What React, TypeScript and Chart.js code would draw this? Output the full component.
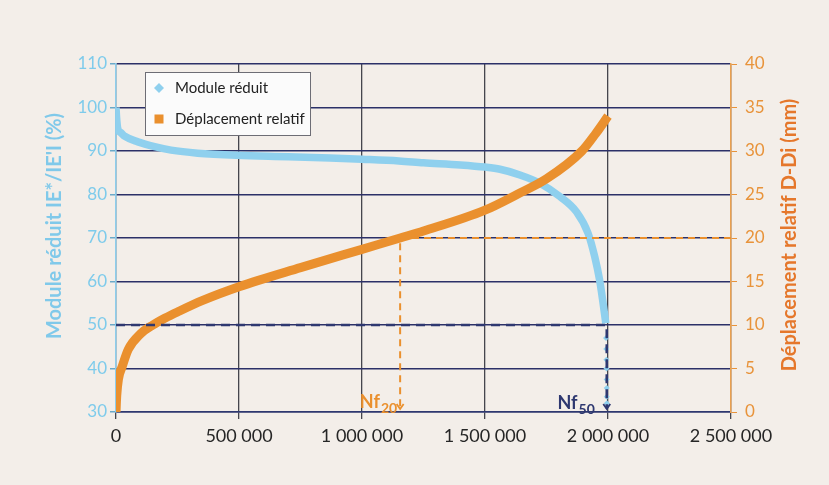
import { useEffect, useRef } from 'react';
import { Chart, registerables } from 'chart.js';

Chart.register(...registerables);

// Reduced modulus |E*|/|E*i| (%) against number of cycles
const moduleCycles = [
  0, 2000, 7000, 20000, 35000, 89000, 157000, 224000, 332000, 494000, 700000, 870000,
  1000000, 1150000, 1250000, 1400000, 1500000, 1561000, 1642000, 1723000, 1805000,
  1872000, 1919000, 1946000, 1966000, 1980000, 1991000,
];
const moduleValues = [
  100, 98.0, 95.2, 94.2, 93.4, 92.1, 91.0, 90.2, 89.5, 89.0, 88.7, 88.4,
  88.1, 87.7, 87.3, 86.8, 86.3, 85.8, 84.5, 82.6, 79.5,
  76.0, 71.1, 65.7, 60.3, 55.0, 50.4,
];
// Scattered last measurements once the modulus collapses
const moduleTailCycles = [1992000, 1993000, 1993500, 1994000, 1994500, 1995000, 1995000, 1995500];
const moduleTailValues = [47.0, 44.5, 42.0, 40.0, 37.5, 35.5, 33.5, 32.0];

// Relative displacement D-Di (mm) against number of cycles
const dispCycles = [
  0, 3000, 10000, 25000, 50000, 100000, 150000, 200000, 250000, 350000, 500000, 750000,
  1000000, 1155000, 1250000, 1500000, 1630000, 1750000, 1894000, 1950000, 2000000,
];
const dispValues = [
  0, 1.9, 3.8, 5.2, 7.2, 9.0, 10.0, 10.8, 11.5, 12.8, 14.4, 16.6,
  18.7, 20.0, 20.8, 23.2, 25.0, 26.8, 30.0, 32.0, 34.0,
];

// Failure criteria
const NF20 = 1155000; // cycles at 20 mm displacement
const NF20_DISP = 20;
const NF50 = 1995000; // cycles at 50 % modulus
const NF50_MODULE = 50;

const cycleRange = [0, 2500000];
const cycleStep = 500000;
const moduleRange = [30, 110];
const moduleStep = 10;
const dispRange = [0, 40];
const dispStep = 5;

const BLUE = '#8fd0ee';
const ORANGE = '#ea902e';
const NAVY = '#2e3870';
const FONT = 'Lato';

const formatCycles = (v: number) => String(v).replace(/\B(?=(\d{3})+(?!\d))/g, ' ');

const pairs = (xs: number[], ys: number[]) => xs.map((x, i) => ({ x, y: ys[i] }));

const backgroundPlugin = {
  id: 'paper',
  beforeDraw(chart: any) {
    const { ctx, width, height } = chart;
    ctx.save();
    ctx.fillStyle = '#f3eee9';
    ctx.fillRect(0, 0, width, height);
    ctx.restore();
  },
};

const decorationsPlugin = {
  id: 'decorations',
  afterDatasetsDraw(chart: any) {
    const { ctx, chartArea, scales } = chart;
    const x = scales.x;
    const yL = scales.y;
    const yR = scales.y1;
    ctx.save();

    // arrow heads at the foot of the guide lines
    const chevron = (px: number, py: number, color: string) => {
      ctx.strokeStyle = color;
      ctx.lineWidth = 1.8;
      ctx.beginPath();
      ctx.moveTo(px - 3.5, py - 5);
      ctx.lineTo(px, py);
      ctx.lineTo(px + 3.5, py - 5);
      ctx.stroke();
    };
    const p20 = x.getPixelForValue(NF20);
    const p50 = x.getPixelForValue(NF50);
    chevron(p20, yR.getPixelForValue(0) - 3, ORANGE);
    chevron(p50, yL.getPixelForValue(30) - 3, NAVY);

    // Nf labels with subscripts
    const nfLabel = (right: number, base: number, sub: string, color: string) => {
      ctx.fillStyle = color;
      ctx.textBaseline = 'alphabetic';
      ctx.textAlign = 'left';
      ctx.font = `bold 14px ${FONT}`;
      const subW = ctx.measureText(sub).width;
      ctx.font = `bold 18px ${FONT}`;
      const mainW = ctx.measureText('Nf').width;
      const left = right - subW - mainW - 1;
      ctx.fillText('Nf', left, base);
      ctx.font = `bold 14px ${FONT}`;
      ctx.fillText(sub, left + mainW + 1, base + 5);
    };
    const bottom = chartArea.bottom;
    nfLabel(p20 - 3, bottom - 4, '20', ORANGE);
    nfLabel(p50 - 12, bottom - 3, '50', NAVY);

    // legend box
    const lx = chartArea.left + 29;
    const ly = chartArea.top + 8;
    const lw = 165;
    const lh = 63;
    ctx.fillStyle = '#fbfbfb';
    ctx.fillRect(lx, ly, lw, lh);
    ctx.strokeStyle = '#6d6d75';
    ctx.lineWidth = 1;
    ctx.strokeRect(lx + 0.5, ly + 0.5, lw, lh);
    const items = [
      { label: chart.data.datasets[0].label, color: BLUE, diamond: true, cy: ly + 16 },
      { label: chart.data.datasets[2].label, color: ORANGE, diamond: false, cy: ly + 47 },
    ];
    items.forEach((it) => {
      const cx = lx + 14;
      ctx.fillStyle = it.color;
      if (it.diamond) {
        ctx.beginPath();
        ctx.moveTo(cx, it.cy - 5);
        ctx.lineTo(cx + 5, it.cy);
        ctx.lineTo(cx, it.cy + 5);
        ctx.lineTo(cx - 5, it.cy);
        ctx.closePath();
        ctx.fill();
      } else {
        ctx.fillRect(cx - 4.5, it.cy - 4.5, 9, 9);
      }
      ctx.fillStyle = '#222';
      ctx.font = `15px ${FONT}`;
      ctx.textAlign = 'left';
      ctx.textBaseline = 'middle';
      ctx.fillText(it.label, lx + 30, it.cy);
    });

    // axis titles, both reading bottom to top
    const vtitle = (text: string, cx: number, cy: number, color: string) => {
      ctx.save();
      ctx.translate(cx, cy);
      ctx.rotate(-Math.PI / 2);
      ctx.fillStyle = color;
      ctx.font = `bold 20px ${FONT}`;
      ctx.textAlign = 'center';
      ctx.textBaseline = 'middle';
      ctx.fillText(text, 0, 0);
      ctx.restore();
    };
    const midY = (chartArea.top + chartArea.bottom) / 2;
    vtitle("Module réduit IE*/IE'I (%)", chartArea.left - 61, midY - 12, '#80c9ea');
    vtitle('Déplacement relatif D-Di (mm)', chartArea.right + 59, midY - 3, '#e5772b');

    ctx.restore();
  },
};

export default function App() {
  const canvasRef = useRef<HTMLCanvasElement | null>(null);

  useEffect(() => {
    if (!canvasRef.current) return;
    const chart = new Chart(canvasRef.current, {
      type: 'line',
      data: {
        datasets: [
          {
            label: 'Module réduit',
            data: pairs(moduleCycles, moduleValues),
            yAxisID: 'y',
            borderColor: BLUE,
            borderWidth: 7.5,
            pointRadius: 0,
            cubicInterpolationMode: 'monotone',
            order: 3,
          },
          {
            label: 'Module réduit (fin)',
            data: pairs(moduleTailCycles, moduleTailValues),
            yAxisID: 'y',
            showLine: false,
            pointStyle: 'rectRot',
            pointRadius: 3,
            pointBackgroundColor: BLUE,
            pointBorderWidth: 0,
            order: 3,
          },
          {
            label: 'Déplacement relatif',
            data: pairs(dispCycles, dispValues),
            yAxisID: 'y1',
            borderColor: ORANGE,
            borderWidth: 9,
            pointRadius: 0,
            cubicInterpolationMode: 'monotone',
            order: 2,
          },
          {
            label: 'Nf50',
            data: [
              { x: cycleRange[0], y: NF50_MODULE },
              { x: NF50, y: NF50_MODULE },
              { x: NF50, y: moduleRange[0] + 0.8 },
            ],
            yAxisID: 'y',
            borderColor: NAVY,
            borderWidth: 2.6,
            borderDash: [9, 6],
            pointRadius: 0,
            order: 0,
          },
          {
            label: 'Nf20',
            data: [
              { x: cycleRange[1], y: NF20_DISP },
              { x: NF20, y: NF20_DISP },
              { x: NF20, y: dispRange[0] + 0.4 },
            ],
            yAxisID: 'y1',
            borderColor: ORANGE,
            borderWidth: 2,
            borderDash: [7, 5],
            pointRadius: 0,
            order: 1,
          },
        ],
      },
      options: {
        animation: false,
        responsive: false,
        devicePixelRatio: 1,
        layout: { padding: { top: 64, left: 0, right: 0, bottom: 0 } },
        plugins: { legend: { display: false }, tooltip: { enabled: false } },
        scales: {
          x: {
            type: 'linear',
            min: cycleRange[0],
            max: cycleRange[1],
            afterFit: (s: any) => { s.height = 73; },
            ticks: {
              stepSize: cycleStep,
              color: '#262626',
              font: { family: FONT, size: 18 },
              padding: 6,
              maxRotation: 0,
              callback: (v: any) => formatCycles(Number(v)),
            },
            grid: { color: '#45454d', lineWidth: 1.3, tickLength: 7, tickColor: '#45454d' },
            border: { color: NAVY, width: 1.5 },
          },
          y: {
            type: 'linear',
            position: 'left',
            min: moduleRange[0],
            max: moduleRange[1],
            afterFit: (s: any) => { s.width = 116; },
            ticks: {
              stepSize: moduleStep,
              color: '#7ecbeb',
              font: { family: FONT, size: 17 },
              padding: 3,
            },
            grid: { color: '#2b3068', lineWidth: 1.5, tickLength: 6, tickColor: '#6aa9c8' },
            border: { color: '#8ccdec', width: 1.5 },
          },
          y1: {
            type: 'linear',
            position: 'right',
            min: dispRange[0],
            max: dispRange[1],
            afterFit: (s: any) => { s.width = 98; },
            ticks: {
              stepSize: dispStep,
              color: '#e8933a',
              font: { family: FONT, size: 17 },
              padding: 8,
            },
            grid: { drawOnChartArea: false, tickLength: 6, tickColor: '#e8933a' },
            border: { color: '#e9a050', width: 1.5 },
          },
        },
      },
      plugins: [backgroundPlugin, decorationsPlugin],
    });
    return () => chart.destroy();
  }, []);

  return (
    <div style={{ position: 'fixed', left: 0, top: 0, width: 829, height: 485 }}>
      <canvas ref={canvasRef} width={829} height={485} style={{ display: 'block' }} />
    </div>
  );
}
